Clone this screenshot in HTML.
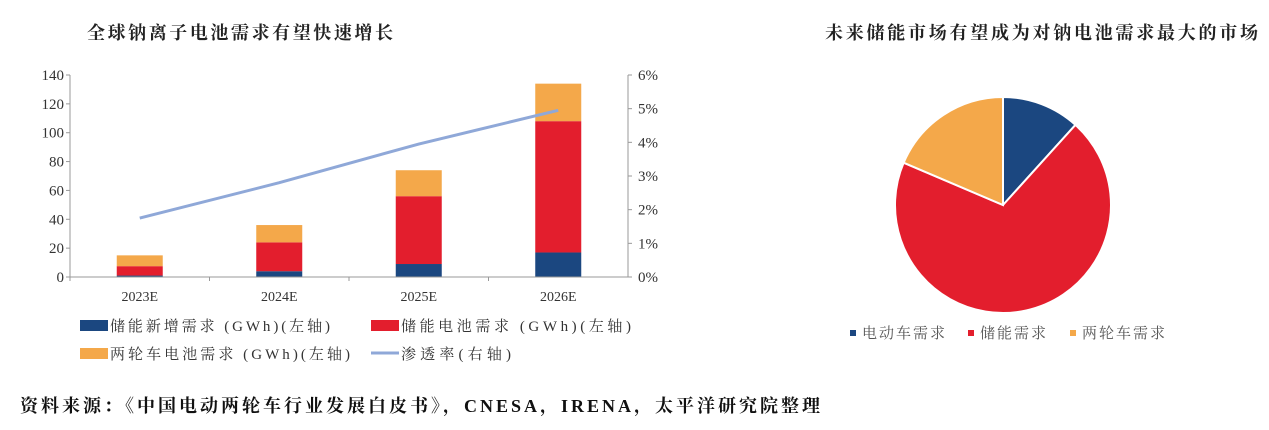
<!DOCTYPE html>
<html><head><meta charset="utf-8">
<style>
body{margin:0;width:1269px;height:425px;background:#fff;overflow:hidden;font-family:"Liberation Serif","Noto Serif CJK SC",serif;}
svg text{font-family:"Liberation Serif","Noto Serif CJK SC",serif;}
</style></head>
<body>
<svg id="chart" width="1269" height="425" viewBox="0 0 1269 425">
<text x="87" y="39" font-size="18" font-weight="bold" fill="#222" textLength="306">全球钠离子电池需求有望快速增长</text>
<text x="825" y="39" font-size="18" font-weight="bold" fill="#222" textLength="433">未来储能市场有望成为对钠电池需求最大的市场</text>
<g id="bars"></g>
<g id="axes"></g>
<g id="pie"></g>
<g font-size="15" fill="#333">
<rect x="80" y="320" width="28" height="11" fill="#1b4780"/><text x="110" y="331" textLength="220">储能新增需求 (GWh)(左轴)</text>
<rect x="371" y="320" width="28" height="11" fill="#e31e2d"/><text x="401" y="331" textLength="230">储能电池需求 (GWh)(左轴)</text>
<rect x="80" y="348" width="28" height="11" fill="#f4a84a"/><text x="110" y="359" textLength="240">两轮车电池需求 (GWh)(左轴)</text>
<line x1="371" y1="353" x2="399" y2="353" stroke="#8fa8d8" stroke-width="3"/><text x="401" y="359" textLength="110">渗透率(右轴)</text>
</g>
<g font-size="15" fill="#555" letter-spacing="2">
<rect x="850" y="330" width="6" height="6" fill="#1b4780"/><text x="862" y="338">电动车需求</text>
<rect x="968" y="330" width="6" height="6" fill="#e31e2d"/><text x="980" y="338">储能需求</text>
<rect x="1070" y="330" width="6" height="6" fill="#f4a84a"/><text x="1082" y="338">两轮车需求</text>
</g>
<text x="20" y="412" font-size="18" font-weight="bold" fill="#111" textLength="800">资料来源：《中国电动两轮车行业发展白皮书》，CNESA，IRENA，太平洋研究院整理</text>
</svg>
<script>
const categories=["2023E","2024E","2025E","2026E"];
const storageNew=[1,4,9,17];
const storageBattery=[6.5,20,47,91];
const twoWheeler=[7.5,12,18,26];
const penetration=[1.75,2.8,3.95,4.95];
const leftTicks=[0,20,40,60,80,100,120,140];
const rightTicks=[0,1,2,3,4,5,6];
const pieLabels=["电动车需求","储能需求","两轮车需求"];
const pieValues=[11.7,69.7,18.6];

const NS="http://www.w3.org/2000/svg";
function mk(tag,attrs,parent){const e=document.createElementNS(NS,tag);for(const k in attrs)e.setAttribute(k,attrs[k]);parent.appendChild(e);return e;}
const x0=70,x1=628,y0=277,yTop=75;
const yL=v=>y0-(v/140)*(y0-yTop);
const yR=v=>y0-(v/6)*(y0-yTop);
const band=(x1-x0)/categories.length;
const xC=i=>x0+band*(i+0.5);
const bw=46;
const axes=document.getElementById('axes');
const bars=document.getElementById('bars');
leftTicks.forEach(t=>{
 const tx=mk('text',{x:64,y:yL(t)+5,'font-size':15,'text-anchor':'end',fill:'#333'},axes);tx.textContent=t;
 
 
 mk('line',{x1:x0-4,x2:x0,y1:yL(t),y2:yL(t),stroke:'#999'},axes);
});
rightTicks.forEach(t=>{
 const tx=mk('text',{x:638,y:yR(t)+5,'font-size':15,fill:'#333'},axes);tx.textContent=t+'%';
 
 
 mk('line',{x1:x1,x2:x1+4,y1:yR(t),y2:yR(t),stroke:'#999'},axes);
});
mk('line',{x1:x0,x2:x0,y1:yTop,y2:y0,stroke:'#999'},axes);
mk('line',{x1:x1,x2:x1,y1:yTop,y2:y0,stroke:'#999'},axes);
mk('line',{x1:x0,x2:x1,y1:y0,y2:y0,stroke:'#999'},axes);
categories.forEach((c,i)=>{
 const tx=mk('text',{x:xC(i),y:301,'font-size':14,'text-anchor':'middle',fill:'#333'},axes);tx.textContent=c;
 
 
 mk('line',{x1:x0+band*i,x2:x0+band*i,y1:y0,y2:y0+4,stroke:'#999'},axes);
 let base=0;
 [[storageNew,'#1b4780','bar-storage-new'],[storageBattery,'#e31e2d','bar-storage-battery'],[twoWheeler,'#f4a84a','bar-two-wheeler']].forEach(([arr,col,nm])=>{
  const r=mk('rect',{x:xC(i)-bw/2,y:yL(base+arr[i]),width:bw,height:yL(base)-yL(base+arr[i]),fill:col},bars);
  
  
  base+=arr[i];
 });
});
const line=mk('polyline',{points:penetration.map((v,i)=>xC(i)+','+yR(v)).join(' '),fill:'none',stroke:'#8fa8d8','stroke-width':3},axes);


const pie=document.getElementById('pie');
const cx=1003,cy=205,R=108;
const colors=['#1b4780','#e31e2d','#f4a84a'];
const total=pieValues.reduce((a,b)=>a+b,0);
let a0=0;
pieValues.forEach((v,i)=>{
 const a1=a0+v/total*2*Math.PI;
 const p=(a)=>[cx+R*Math.sin(a),cy-R*Math.cos(a)];
 const [sx,sy]=p(a0),[ex,ey]=p(a1);
 const large=(a1-a0)>Math.PI?1:0;
 const s=mk('path',{d:`M${cx},${cy} L${sx},${sy} A${R},${R} 0 ${large} 1 ${ex},${ey} Z`,fill:colors[i],stroke:'#fff','stroke-width':2},pie);
 
 
 a0=a1;
});
</script>
</body></html>
